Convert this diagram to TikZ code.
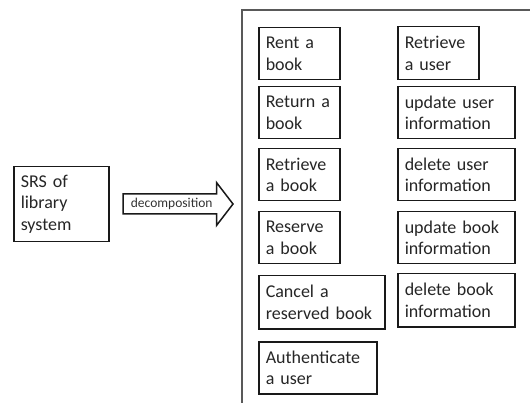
\documentclass[tikz,border=0pt]{standalone}
\usepackage{fontspec}
\setmainfont{Carlito}
\begin{document}
\begin{tikzpicture}[x=1pt,y=-1pt,
  box/.style={draw=black!90, line width=1.5pt, anchor=north west, align=left,
    inner xsep=7pt, inner ysep=0pt, text=black!85,
    font=\fontsize{18}{21.7}\selectfont},
  twoline/.style={minimum height=52pt},
  narrow/.style={text width=67pt},
  wide/.style={text width=103pt},
  blockarrow/.style={draw=black!90, line width=1.5pt, fill=white, line join=miter},
  arrowlabel/.style={text=black!80, inner sep=0pt, font=\fontsize{13.5}{15}\selectfont},
  frame/.style={draw=black!65, line width=2pt, anchor=north west, inner sep=0pt}]
\useasboundingbox (0,0) rectangle (530,403);
\fill[white] (0,0) rectangle (530,403);

% enclosing frame of the decomposed functions (runs off the page)
\node[frame, minimum width=320pt, minimum height=420pt] (group) at (241,9) {};

% the whole system
\node[box, text width=81pt, minimum height=75pt] (srs) at (13,166) {SRS of\\library\\system};

% decomposition block arrow
\coordinate (a1) at (123,194);
\coordinate (a2) at (216.5,194);
\coordinate (a3) at (216.5,182.5);
\coordinate (tip) at (233,204);
\coordinate (a5) at (216.5,225.5);
\coordinate (a6) at (216.5,214);
\coordinate (a7) at (123,214);
\draw[blockarrow] (a1) -- (a2) -- (a3) -- (tip) -- (a5) -- (a6) -- (a7) -- cycle;
\node[arrowlabel] (decomp) at (171.7,204) {decomposition};

% left column
\node[box, twoline, narrow] (rent) at (258,27) {Rent a\\book};
\node[box, twoline, narrow] (return) at (258,86) {Return a\\book};
\node[box, twoline, narrow] (retrbook) at (258,148) {Retrieve\\a book};
\node[box, twoline, narrow] (reserve) at (258,211) {Reserve\\a book};
\node[box, minimum height=53pt, text width=112pt] (cancel) at (258,275) {Cancel a\\reserved book};
\node[box, twoline, text width=104pt] (auth) at (258,341) {Authenticate\\a user};

% right column
\node[box, minimum height=53pt, narrow] (retruser) at (397,26) {Retrieve\\a user};
\node[box, twoline, wide] (upduser) at (397,86) {update user\\information};
\node[box, twoline, wide] (deluser) at (397,148) {delete user\\information};
\node[box, twoline, wide] (updbook) at (397,211) {update book\\information};
\node[box, minimum height=53pt, wide] (delbook) at (397,273) {delete book\\information};
\end{tikzpicture}
\end{document}
